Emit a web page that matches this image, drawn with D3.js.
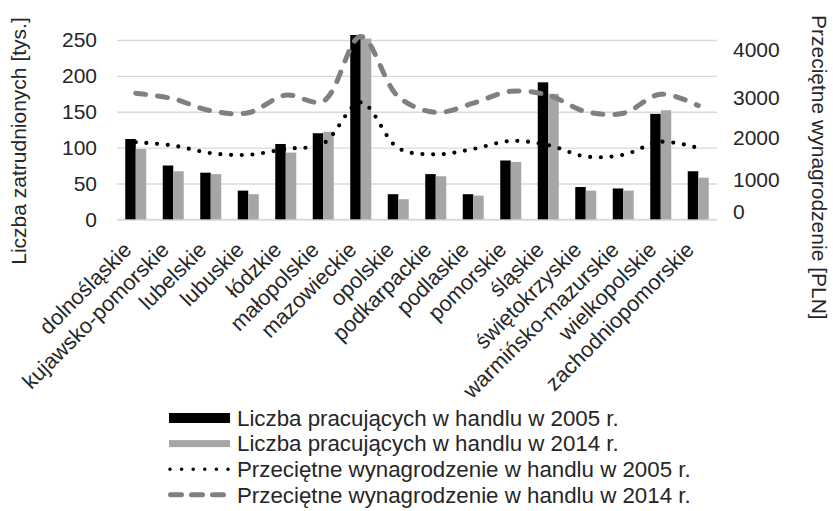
<!DOCTYPE html>
<html>
<head>
<meta charset="utf-8">
<script src="https://cdn.jsdelivr.net/npm/d3@7"></script>
<style>
  body { margin: 0; background: #fff; }
  svg { display: block; font-family: Arial, "Liberation Sans", sans-serif; }
</style>
</head>
<body>
<svg id="chart" width="833" height="511"></svg>
<script>
const regions = ["dolnośląskie", "kujawsko-pomorskie", "lubelskie", "lubuskie", "łódzkie",
  "małopolskie", "mazowieckie", "opolskie", "podkarpackie", "podlaskie", "pomorskie",
  "śląskie", "świętokrzyskie", "warmińsko-mazurskie", "wielkopolskie", "zachodniopomorskie"];

// liczba pracujacych w handlu [tys.]
const workers2005 = [112, 75, 65, 40, 105, 120, 257, 35, 63, 35, 82, 191, 45, 43, 147, 67];
const workers2014 = [98, 67, 63, 35, 93, 122, 252, 28, 60, 33, 80, 175, 40, 40, 152, 58];

// przecietne wynagrodzenie [PLN]
const wages2005 = [1900, 1820, 1640, 1600, 1740, 1870, 2890, 1760, 1610, 1740, 1930, 1830, 1560, 1600, 1910, 1760];
const wages2014 = [3100, 2980, 2680, 2630, 3060, 2920, 4280, 3030, 2640, 2870, 3140, 3060, 2660, 2620, 3080, 2810];

const workerTicks = [0, 50, 100, 150, 200, 250];
const wageTicks = [0, 1000, 2000, 3000, 4000];

const legendItems = [
  { label: "Liczba pracujących w handlu w 2005 r.", type: "bar", color: "#000000", h: 10 },
  { label: "Liczba pracujących w handlu w 2014 r.", type: "bar", color: "#a6a6a6", h: 7 },
  { label: "Przeciętne wynagrodzenie w handlu w 2005 r.", type: "dot" },
  { label: "Przeciętne wynagrodzenie w handlu w 2014 r.", type: "dash" }
];

const svg = d3.select("#chart");
const plotLeft = 117, plotRight = 717, plotTop = 40, plotBottom = 219.3;
const textColor = "#262626";

const x = d3.scaleBand().domain(regions).range([plotLeft, plotRight])
  .paddingInner(0.44).paddingOuter(0.22);
const x1 = d3.scaleBand().domain(["2005", "2014"]).range([0, x.bandwidth()]);
const yL = d3.scaleLinear().domain([0, 250]).range([plotBottom, plotTop]);
// prawa os w oryginale nie jest rowna - etykiety stoja nierowno
const yR = d3.scaleLinear().domain(wageTicks).range([212, 180, 138, 98, 50]);

// gridlines
const grid = svg.append("g")
  .attr("transform", `translate(${plotLeft},0)`)
  .call(d3.axisLeft(yL).tickValues(workerTicks).tickSize(-(plotRight - plotLeft)).tickFormat(""));
grid.select(".domain").remove();
grid.selectAll("line").attr("stroke", "#d9d9d9").attr("stroke-width", 1.4);
grid.selectAll(".tick").filter(d => d === 0).select("line").attr("stroke-width", 2);

// left axis
const axL = svg.append("g")
  .attr("transform", `translate(${plotLeft},0)`)
  .call(d3.axisLeft(yL).tickValues(workerTicks).tickSize(0).tickPadding(20));
axL.select(".domain").remove();
axL.selectAll("text").attr("font-size", 21).attr("fill", textColor);
axL.attr("font-family", null);

// right axis
const axR = svg.append("g")
  .attr("transform", `translate(${plotRight},0)`)
  .call(d3.axisRight(yR).tickValues(wageTicks).tickFormat(d3.format("d")).tickSize(0).tickPadding(16));
axR.select(".domain").remove();
axR.selectAll("text").attr("font-size", 21).attr("fill", textColor);
axR.attr("font-family", null);

// bars
const barData = regions.map((r, i) => ({ region: r, vals: [
  { key: "2005", v: workers2005[i], color: "#000000" },
  { key: "2014", v: workers2014[i], color: "#a6a6a6" }
]}));

svg.append("g").selectAll("g")
  .data(barData)
  .enter()
  .append("g")
  .attr("transform", d => `translate(${x(d.region)},0)`)
  .selectAll("rect")
  .data(d => d.vals)
  .enter()
  .append("rect")
  .attr("x", d => x1(d.key))
  .attr("width", x1.bandwidth())
  .attr("y", d => yL(d.v))
  .attr("height", d => plotBottom - yL(d.v))
  .attr("fill", d => d.color);

// lines
const line = d3.line()
  .x((d, i) => x(regions[i]) + x.bandwidth() / 2)
  .y(d => yR(d))
  .curve(d3.curveCatmullRom.alpha(0.5));

svg.append("path")
  .datum(wages2014)
  .attr("d", line)
  .attr("fill", "none")
  .attr("stroke", "#808080")
  .attr("stroke-width", 5)
  .attr("stroke-linecap", "round")
  .attr("stroke-dasharray", "10,12");

svg.append("path")
  .datum(wages2005)
  .attr("d", line)
  .attr("fill", "none")
  .attr("stroke", "#000")
  .attr("stroke-width", 4.2)
  .attr("stroke-linecap", "round")
  .attr("stroke-dasharray", "0,10.7");

// x axis labels
const axX = svg.append("g")
  .attr("transform", `translate(0,${plotBottom})`)
  .call(d3.axisBottom(x).tickSize(0));
axX.select(".domain").remove();
axX.attr("font-family", null);
axX.selectAll("text")
  .attr("font-size", 21.7)
  .attr("fill", textColor)
  .attr("text-anchor", "end")
  .attr("x", 0).attr("y", 0).attr("dy", 0)
  .attr("transform", "translate(-3,32) rotate(-45)");

// axis titles
svg.append("text")
  .attr("transform", "translate(26,141) rotate(-90)")
  .attr("text-anchor", "middle")
  .attr("font-size", 21)
  .attr("fill", textColor)
  .text("Liczba zatrudnionych [tys.]");

svg.append("text")
  .attr("transform", "translate(812,15) rotate(90)")
  .attr("text-anchor", "start")
  .attr("font-size", 21)
  .attr("fill", textColor)
  .text("Przeciętne wynagrodzenie [PLN]");

// legend
const leg = svg.append("g").attr("transform", "translate(169,418)");
const rows = leg.selectAll("g")
  .data(legendItems)
  .enter()
  .append("g")
  .attr("transform", (d, i) => `translate(0,${i * 25.6})`);

rows.filter(d => d.type === "bar")
  .append("rect")
  .attr("x", 0).attr("width", 61)
  .attr("y", d => -d.h / 2).attr("height", d => d.h)
  .attr("fill", d => d.color);

rows.filter(d => d.type === "dot")
  .append("line")
  .attr("x1", 1).attr("x2", 60)
  .attr("stroke", "#000").attr("stroke-width", 3.6)
  .attr("stroke-linecap", "round")
  .attr("stroke-dasharray", "0,11.6");

rows.filter(d => d.type === "dash")
  .append("line")
  .attr("x1", 1.5).attr("x2", 56)
  .attr("stroke", "#808080").attr("stroke-width", 5)
  .attr("stroke-linecap", "round")
  .attr("stroke-dasharray", "11,10");

rows.append("text")
  .attr("x", 68)
  .attr("dy", "0.35em")
  .attr("font-size", 22.3)
  .attr("fill", textColor)
  .text(d => d.label);
</script>
</body>
</html>
